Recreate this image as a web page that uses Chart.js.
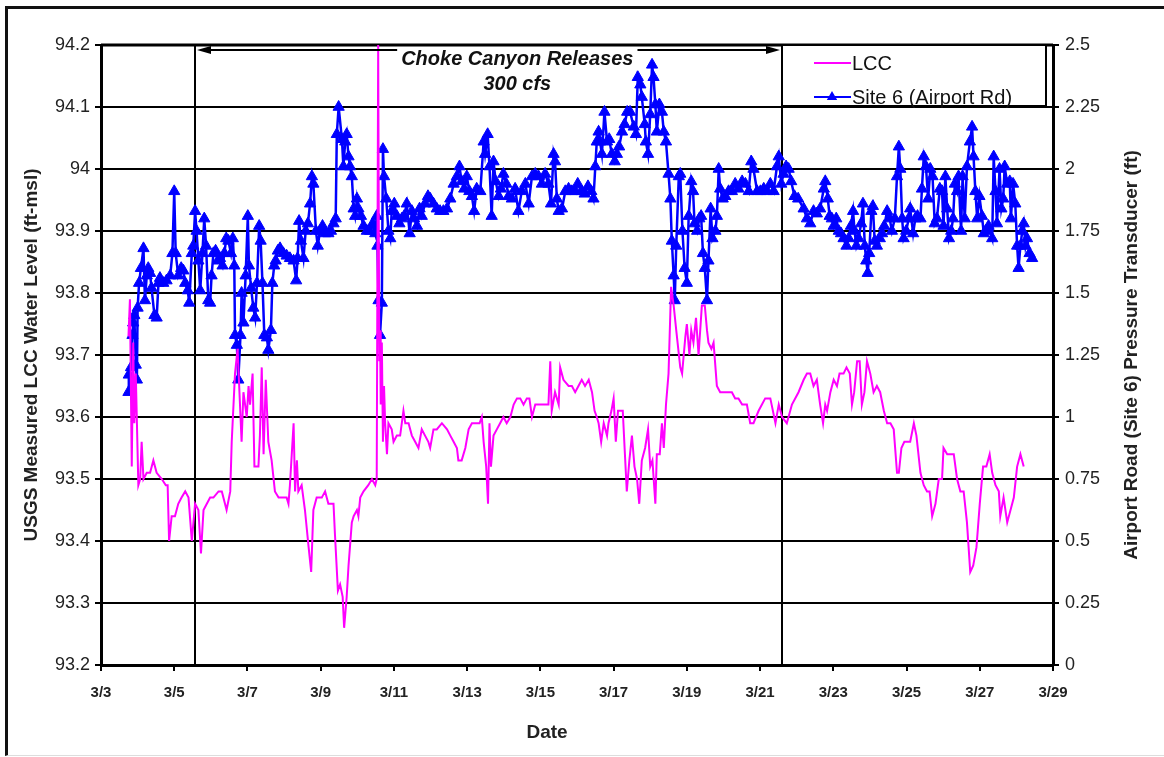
<!DOCTYPE html>
<html>
<head>
<meta charset="utf-8">
<title>LCC and Site 6 water levels</title>
<script src="https://cdn.jsdelivr.net/npm/chart.js@4.4.1/dist/chart.umd.min.js"></script>
<style>
  html, body { margin: 0; padding: 0; background: #fff; }
  #wrap { position: relative; width: 1164px; height: 757px; }
  #frame { position: absolute; left: 5px; top: 6px; right: 0; bottom: 1px;
           border-left: 3px solid #111; border-top: 3px solid #111; border-bottom: 1px solid #ddd;
           pointer-events: none; }
</style>
</head>
<body>
<div id="wrap">
  <canvas id="waterChart" width="1164" height="757"></canvas>
  <div id="frame"></div>
</div>
<script>
//// Data

// LCC (USGS gauge, left axis, ft-msl) - x is day of March
const lccDay = [
  3.75, 3.79, 3.84, 3.88, 3.91, 3.95, 4.02, 4.07, 4.11, 4.16, 4.25, 4.34, 4.43, 4.52, 4.66, 4.77, 4.82, 4.86, 4.93, 5.02,
  5.11, 5.20, 5.30, 5.39, 5.48, 5.57, 5.66, 5.73, 5.80, 5.89, 5.98, 6.07, 6.21, 6.30, 6.43, 6.53, 6.57, 6.66, 6.73, 6.84,
  6.89, 6.98, 7.03, 7.07, 7.14, 7.19, 7.30, 7.34, 7.39, 7.44, 7.50, 7.57, 7.66, 7.75, 7.85, 7.94, 8.07, 8.12, 8.16, 8.26,
  8.30, 8.35, 8.39, 8.48, 8.57, 8.67, 8.74, 8.80, 8.89, 9.03, 9.12, 9.21, 9.35, 9.39, 9.47,
  9.53, 9.60, 9.64, 9.71, 9.76, 9.85, 9.90, 9.99, 10.03, 10.08, 10.17, 10.30, 10.40, 10.49, 10.53, 10.57, 10.60, 10.62, 10.64, 10.67,
  10.70, 10.73, 10.76, 10.81, 10.85, 10.94, 10.99, 11.08, 11.17, 11.26, 11.31, 11.40, 11.49, 11.58, 11.67, 11.76, 11.85, 11.94, 11.99, 12.08,
  12.17, 12.31, 12.45, 12.54, 12.63, 12.72, 12.76, 12.85, 12.95, 13.04, 13.13, 13.26, 13.34, 13.40, 13.45, 13.52, 13.57, 13.61, 13.65, 13.72,
  13.81, 13.90, 13.99, 14.08, 14.18, 14.27, 14.36, 14.45, 14.54, 14.63, 14.70, 14.77, 14.86, 14.95, 15.04, 15.13, 15.22, 15.27, 15.31, 15.40,
  15.50, 15.54, 15.63,
  15.77, 15.86, 15.95, 16.04, 16.13, 16.22, 16.32, 16.41, 16.48, 16.54, 16.59, 16.66, 16.73, 16.82, 16.86, 16.94, 17.00, 17.06, 17.12, 17.18,
  17.25, 17.30, 17.36, 17.43, 17.50, 17.57, 17.64, 17.70, 17.77, 17.86, 17.94, 18.00, 18.06, 18.14, 18.18, 18.26, 18.32, 18.37, 18.43, 18.50,
  18.57, 18.64, 18.71, 18.82, 18.87, 18.96, 19.00, 19.07, 19.12, 19.18, 19.25, 19.32, 19.41, 19.49, 19.55, 19.59, 19.67, 19.73, 19.82, 19.91,
  20.05, 20.14, 20.23, 20.32, 20.41, 20.51, 20.64, 20.73, 20.82, 20.96, 21.14, 21.28, 21.42, 21.51, 21.60, 21.73, 21.87, 22.05,
  22.19, 22.28, 22.37, 22.46, 22.55, 22.64, 22.72, 22.78, 22.83, 22.92, 23.01, 23.10, 23.17, 23.28, 23.36, 23.45, 23.51, 23.57, 23.65, 23.72,
  23.78, 23.85, 23.92, 24.01, 24.10, 24.19, 24.28, 24.38, 24.47, 24.56, 24.65, 24.74, 24.79, 24.86, 24.94, 25.03, 25.10, 25.20, 25.27, 25.38,
  25.47, 25.56, 25.63, 25.70, 25.79, 25.88, 25.97, 26.01, 26.11, 26.20, 26.29, 26.38, 26.47, 26.56, 26.65, 26.74, 26.82, 26.91, 27.00, 27.09,
  27.18, 27.27, 27.34, 27.43, 27.52, 27.56, 27.65, 27.75, 27.84, 27.93, 28.02, 28.11, 28.20
];
const lccLevel = [
  93.73, 93.79, 93.52, 93.72, 93.59, 93.67, 93.49, 93.50, 93.56, 93.50, 93.51, 93.51, 93.53, 93.51, 93.50, 93.49, 93.49, 93.40, 93.44, 93.44,
  93.46, 93.47, 93.48, 93.47, 93.40, 93.46, 93.45, 93.38, 93.45, 93.46, 93.47, 93.47, 93.48, 93.48, 93.45, 93.48, 93.56, 93.67, 93.71, 93.56,
  93.64, 93.60, 93.65, 93.62, 93.67, 93.52, 93.52, 93.57, 93.68, 93.54, 93.66, 93.56, 93.53, 93.48, 93.47, 93.47, 93.47, 93.46, 93.49, 93.59,
  93.48, 93.53, 93.48, 93.49, 93.45, 93.39, 93.35, 93.45, 93.47, 93.47, 93.48, 93.46, 93.46, 93.41, 93.32,
  93.33, 93.31, 93.26, 93.31, 93.36, 93.43, 93.44, 93.45, 93.44, 93.47, 93.48, 93.49, 93.50, 93.49, 93.50, 94.20, 93.69, 93.74, 93.62, 93.72,
  93.56, 93.65, 93.59, 93.54, 93.59, 93.58, 93.56, 93.57, 93.57, 93.61, 93.59, 93.59, 93.57, 93.56, 93.55, 93.58, 93.57, 93.56, 93.55, 93.58,
  93.58, 93.59, 93.58, 93.57, 93.56, 93.55, 93.53, 93.53, 93.55, 93.58, 93.59, 93.59, 93.59, 93.60, 93.56, 93.52, 93.46, 93.59, 93.52, 93.57,
  93.58, 93.59, 93.60, 93.59, 93.60, 93.62, 93.63, 93.63, 93.62, 93.63, 93.63, 93.60, 93.62, 93.62, 93.62, 93.62, 93.62, 93.69, 93.61, 93.64,
  93.62, 93.68, 93.66,
  93.65, 93.65, 93.64, 93.65, 93.66, 93.65, 93.66, 93.64, 93.61, 93.60, 93.59, 93.56, 93.59, 93.57, 93.59, 93.61, 93.63, 93.56, 93.61, 93.61,
  93.61, 93.55, 93.48, 93.53, 93.57, 93.52, 93.50, 93.46, 93.53, 93.55, 93.58, 93.52, 93.53, 93.46, 93.54, 93.54, 93.59, 93.55, 93.62, 93.67,
  93.81, 93.78, 93.74, 93.68, 93.67, 93.73, 93.75, 93.70, 93.74, 93.72, 93.76, 93.70, 93.78, 93.78, 93.74, 93.72, 93.71, 93.72, 93.65, 93.64,
  93.64, 93.64, 93.64, 93.63, 93.63, 93.62, 93.62, 93.59, 93.59, 93.61, 93.63, 93.63, 93.59, 93.62, 93.60, 93.59, 93.62, 93.64,
  93.66, 93.67, 93.67, 93.65, 93.66, 93.62, 93.59, 93.62, 93.61, 93.64, 93.66, 93.65, 93.67, 93.67, 93.68, 93.67, 93.62, 93.64, 93.69, 93.69,
  93.62, 93.64, 93.69, 93.67, 93.64, 93.65, 93.64, 93.61, 93.59, 93.59, 93.58, 93.51, 93.51, 93.55, 93.56, 93.56, 93.56, 93.59, 93.57, 93.51,
  93.49, 93.48, 93.48, 93.44, 93.46, 93.50, 93.50, 93.55, 93.54, 93.54, 93.54, 93.50, 93.48, 93.48, 93.43, 93.35, 93.36, 93.39, 93.46, 93.52,
  93.52, 93.54, 93.51, 93.49, 93.48, 93.44, 93.47, 93.43, 93.45, 93.47, 93.52, 93.54, 93.52
];

// Site 6 (Airport Rd) pressure transducer, right axis, ft
const siteDay = [
  3.75, 3.76, 3.82, 3.86, 3.88, 3.91, 3.95, 3.98, 4.00, 4.04, 4.09, 4.16, 4.20, 4.25, 4.29, 4.34, 4.38, 4.46, 4.52, 4.57,
  4.61, 4.70, 4.79, 4.89, 4.95, 5.00, 5.04, 5.11, 5.19, 5.25, 5.30, 5.37, 5.41, 5.48, 5.52, 5.57, 5.61, 5.66, 5.71, 5.77,
  5.82, 5.87, 5.93, 5.98, 6.02, 6.07, 6.13, 6.19, 6.25, 6.32, 6.37, 6.42, 6.48, 6.55, 6.60, 6.64, 6.66, 6.71, 6.75, 6.81,
  6.84, 6.89, 6.95, 7.01, 7.04, 7.10, 7.16, 7.21, 7.26, 7.32, 7.36, 7.41, 7.46, 7.53, 7.57, 7.64, 7.68, 7.73, 7.77, 7.83,
  7.89, 7.98, 8.07, 8.16, 8.26, 8.33, 8.37, 8.41, 8.46, 8.53, 8.59, 8.65, 8.71, 8.76, 8.80, 8.87, 8.92, 8.98, 9.05, 9.12,
  9.21, 9.28, 9.35, 9.41, 9.44, 9.49,
  9.58, 9.62, 9.67, 9.71, 9.76, 9.80, 9.85, 9.90, 9.94, 9.99, 10.03, 10.10, 10.17, 10.26, 10.35, 10.42, 10.49, 10.53, 10.55, 10.58,
  10.62, 10.67, 10.70, 10.73, 10.79, 10.85, 10.90, 10.94, 11.01, 11.08, 11.15, 11.22, 11.28, 11.35, 11.43, 11.49, 11.55, 11.63, 11.70, 11.76,
  11.85, 11.93, 11.99, 12.08, 12.17, 12.26, 12.35, 12.45, 12.54, 12.63, 12.72, 12.79, 12.85, 12.92, 12.99, 13.06, 13.13, 13.19, 13.26, 13.36,
  13.45, 13.49, 13.56, 13.61, 13.67, 13.72, 13.78, 13.86, 13.92, 13.99, 14.07, 14.13, 14.22, 14.31, 14.40, 14.49, 14.59, 14.68, 14.77, 14.86,
  14.95, 15.04, 15.13, 15.22, 15.29, 15.36, 15.40, 15.45, 15.50, 15.59, 15.68, 15.77, 15.86, 15.95,
  16.02, 16.12, 16.21, 16.30, 16.39, 16.45, 16.50, 16.54, 16.59, 16.63, 16.68, 16.75, 16.82, 16.88, 16.95, 17.03, 17.09, 17.15, 17.23, 17.30,
  17.37, 17.45, 17.55, 17.61, 17.66, 17.73, 17.77, 17.85, 17.88, 17.94, 18.00, 18.05, 18.09, 18.14, 18.18, 18.25, 18.32, 18.37, 18.43, 18.50,
  18.55, 18.59, 18.64, 18.67, 18.71, 18.78, 18.82, 18.88, 18.94, 19.00, 19.05, 19.12, 19.17, 19.21, 19.28, 19.34, 19.39, 19.44, 19.49, 19.55,
  19.59, 19.65, 19.70, 19.78, 19.82, 19.87, 19.91, 19.98, 20.05, 20.14, 20.23, 20.32, 20.41, 20.51, 20.60, 20.69, 20.76, 20.82, 20.92, 21.01,
  21.10, 21.19, 21.28, 21.37, 21.46, 21.51, 21.58, 21.64, 21.71, 21.78, 21.85, 21.94, 22.04,
  22.19, 22.28, 22.37, 22.46, 22.55, 22.64, 22.74, 22.78, 22.85, 22.90, 22.96, 23.01, 23.08, 23.15, 23.21, 23.28, 23.36, 23.42, 23.48, 23.54,
  23.58, 23.63, 23.69, 23.76, 23.81, 23.86, 23.90, 23.94, 23.98, 24.04, 24.08, 24.13, 24.19, 24.27, 24.33, 24.39, 24.47, 24.54, 24.60, 24.68,
  24.74, 24.79, 24.83, 24.88, 24.92, 24.99, 25.06, 25.10, 25.18, 25.24, 25.30, 25.38, 25.42, 25.47, 25.53, 25.59, 25.65, 25.71, 25.77, 25.83,
  25.91, 25.97, 26.01, 26.06, 26.11, 26.16, 26.22, 26.27, 26.32, 26.38, 26.42, 26.49, 26.53, 26.59, 26.65, 26.73, 26.79, 26.83, 26.88, 26.93,
  26.99, 27.06, 27.11, 27.16, 27.24, 27.34, 27.38, 27.43, 27.47, 27.54, 27.59, 27.64, 27.68, 27.75, 27.82, 27.85, 27.91, 27.97, 28.02, 28.06,
  28.11, 28.16, 28.20, 28.25, 28.29, 28.36, 28.43
];
const siteLevel = [
  1.10, 1.17, 1.20, 1.33, 1.38, 1.41, 1.21, 1.15, 1.44, 1.54, 1.60, 1.68, 1.47, 1.57, 1.60, 1.58, 1.52, 1.41, 1.40, 1.54,
  1.56, 1.54, 1.55, 1.57, 1.66, 1.91, 1.66, 1.57, 1.60, 1.59, 1.54, 1.51, 1.46, 1.66, 1.69, 1.83, 1.75, 1.63, 1.51, 1.66,
  1.80, 1.69, 1.47, 1.46, 1.57, 1.66, 1.67, 1.63, 1.64, 1.61, 1.66, 1.72, 1.71, 1.66, 1.72, 1.61, 1.33, 1.29, 1.15, 1.33,
  1.50, 1.38, 1.57, 1.81, 1.61, 1.52, 1.44, 1.40, 1.54, 1.77, 1.71, 1.54, 1.33, 1.32, 1.27, 1.35, 1.54, 1.61, 1.63, 1.67,
  1.68, 1.66, 1.65, 1.64, 1.63, 1.55, 1.64, 1.79, 1.71, 1.64, 1.75, 1.78, 1.86, 1.97, 1.94, 1.75, 1.69, 1.75, 1.77, 1.74,
  1.74, 1.75, 1.78, 1.80, 2.14, 2.25,
  2.12, 2.01, 2.11, 2.14, 2.05, 2.01, 1.97, 1.84, 1.81, 1.88, 1.84, 1.81, 1.77, 1.75, 1.75, 1.78, 1.74, 1.81, 1.69, 1.47,
  1.33, 1.46, 2.08, 1.97, 1.88, 1.75, 1.72, 1.83, 1.86, 1.81, 1.78, 1.80, 1.81, 1.86, 1.74, 1.83, 1.80, 1.77, 1.84, 1.81,
  1.86, 1.89, 1.88, 1.86, 1.84, 1.83, 1.83, 1.84, 1.88, 1.94, 1.97, 2.01, 1.95, 1.92, 1.97, 1.91, 1.89, 1.83, 1.92, 1.91,
  2.11, 2.06, 2.14, 2.01, 1.81, 2.03, 1.95, 1.89, 1.92, 1.98, 1.94, 1.89, 1.88, 1.92, 1.83, 1.91, 1.94, 1.86, 1.97, 1.98,
  1.97, 1.94, 1.98, 1.94, 1.86, 2.06, 2.03, 1.88, 1.83, 1.84, 1.91, 1.92, 1.91, 1.91,
  1.94, 1.91, 1.90, 1.93, 1.91, 1.88, 2.01, 2.11, 2.15, 2.11, 2.06, 2.23, 2.11, 2.12, 2.06, 2.03, 2.06, 2.09, 2.15, 2.18,
  2.23, 2.23, 2.17, 2.14, 2.37, 2.34, 2.29, 2.18, 2.11, 2.06, 2.22, 2.42, 2.37, 2.26, 2.15, 2.26, 2.23, 2.15, 2.11, 1.98,
  1.88, 1.71, 1.57, 1.47, 1.69, 1.97, 1.98, 1.75, 1.60, 1.54, 1.81, 1.95, 1.91, 1.78, 1.75, 1.80, 1.81, 1.66, 1.60, 1.47,
  1.63, 1.84, 1.72, 1.75, 1.81, 2.00, 1.92, 1.88, 1.89, 1.91, 1.91, 1.94, 1.92, 1.95, 1.94, 1.91, 2.03, 2.00, 1.91, 1.91,
  1.92, 1.91, 1.94, 1.91, 2.01, 2.05, 1.94, 1.98, 2.01, 2.00, 1.95, 1.89, 1.88,
  1.84, 1.80, 1.78, 1.83, 1.82, 1.84, 1.92, 1.95, 1.88, 1.81, 1.80, 1.77, 1.80, 1.75, 1.74, 1.72, 1.69, 1.72, 1.77, 1.83,
  1.75, 1.69, 1.72, 1.78, 1.86, 1.69, 1.63, 1.58, 1.66, 1.83, 1.85, 1.71, 1.69, 1.72, 1.74, 1.77, 1.83, 1.80, 1.75, 1.80,
  1.97, 2.09, 2.00, 1.80, 1.72, 1.75, 1.80, 1.84, 1.74, 1.80, 1.81, 1.80, 1.92, 2.05, 2.01, 1.88, 2.00, 1.97, 1.78, 1.80,
  1.92, 1.91, 1.77, 1.97, 1.84, 1.72, 1.75, 1.80, 1.94, 1.91, 1.97, 1.75, 1.97, 1.80, 2.01, 2.11, 2.17, 2.05, 1.91, 1.80,
  1.89, 1.81, 1.74, 1.75, 1.77, 1.72, 2.05, 1.91, 1.78, 2.00, 1.84, 1.88, 2.01, 1.94, 1.95, 1.80, 1.94, 1.86, 1.69, 1.60,
  1.69, 1.75, 1.78, 1.69, 1.72, 1.66, 1.64
];

// Choke Canyon release period (start / end, day of March) and note position
const releaseDays = [5.57, 21.6];
const noteDay = 14.37;
const noteLines = ['Choke Canyon Releases', '300 cfs'];

const seriesNames = ['LCC', 'Site 6 (Airport Rd)'];
const seriesColors = ['#ff00ff', '#0000ff'];

const axisTitles = {
    left: 'USGS Measured LCC Water Level (ft-msl)',
    right: 'Airport Road (Site 6) Pressure Transducer (ft)',
    bottom: 'Date'
};

const chartFont = "'Liberation Sans', Arial, Helvetica, sans-serif";

//// Helpers
const toPoints = (xs, ys) => xs.map((x, i) => ({ x: x, y: ys[i] }));

const drawTriangle = (ctx, x, y, r) => {
    ctx.beginPath();
    ctx.moveTo(x, y - r);
    ctx.lineTo(x + r * 0.866, y + r / 2);
    ctx.lineTo(x - r * 0.866, y + r / 2);
    ctx.closePath();
    ctx.fill();
};

// annotations, legend box and axis titles
const releasePlugin = {
    id: 'releaseNotes',
    beforeDatasetsDraw(chart) {
        const { ctx, chartArea, scales } = chart;
        ctx.save();
        ctx.strokeStyle = '#000';
        ctx.lineWidth = 2;
        releaseDays.forEach(d => {
            const px = Math.round(scales.x.getPixelForValue(d));
            ctx.beginPath();
            ctx.moveTo(px, chartArea.top);
            ctx.lineTo(px, chartArea.bottom);
            ctx.stroke();
        });
        // heavier top edge of the plot
        ctx.lineWidth = 3;
        ctx.beginPath();
        ctx.moveTo(chartArea.left, chartArea.top);
        ctx.lineTo(chartArea.right, chartArea.top);
        ctx.stroke();
        ctx.restore();
    },
    afterDatasetsDraw(chart) {
        const { ctx, chartArea, scales } = chart;
        const top = chartArea.top;
        const x0 = Math.round(scales.x.getPixelForValue(releaseDays[0])) + 2;
        const x1 = Math.round(scales.x.getPixelForValue(releaseDays[1])) - 2;
        const ay = top + 5;
        ctx.save();

        // double headed arrow
        ctx.strokeStyle = '#000';
        ctx.fillStyle = '#000';
        ctx.lineWidth = 2;
        ctx.beginPath();
        ctx.moveTo(x0 + 8, ay);
        ctx.lineTo(x1 - 8, ay);
        ctx.stroke();
        ctx.beginPath();
        ctx.moveTo(x0, ay); ctx.lineTo(x0 + 14, ay - 4); ctx.lineTo(x0 + 14, ay + 4); ctx.closePath();
        ctx.fill();
        ctx.beginPath();
        ctx.moveTo(x1, ay); ctx.lineTo(x1 - 14, ay - 4); ctx.lineTo(x1 - 14, ay + 4); ctx.closePath();
        ctx.fill();

        // note text
        const nx = scales.x.getPixelForValue(noteDay);
        ctx.font = 'italic bold 20px ' + chartFont;
        ctx.textAlign = 'center';
        ctx.textBaseline = 'middle';
        const w = ctx.measureText(noteLines[0]).width;
        ctx.fillStyle = '#fff';
        ctx.fillRect(nx - w / 2 - 4, top + 3, w + 8, 22);
        ctx.fillStyle = '#111';
        ctx.fillText(noteLines[0], nx, top + 14);
        ctx.fillText(noteLines[1], nx, top + 39);

        // legend box
        const lx = Math.round(scales.x.getPixelForValue(releaseDays[1]));
        const rx = chartArea.right - 7;
        ctx.fillStyle = '#fff';
        ctx.fillRect(lx, top, rx - lx, 61);
        ctx.strokeStyle = '#000';
        ctx.lineWidth = 2;
        ctx.strokeRect(lx, top, rx - lx, 61);
        ctx.font = '20px ' + chartFont;
        ctx.textAlign = 'left';
        const rows = [top + 18, top + 52];
        seriesNames.forEach((name, i) => {
            ctx.strokeStyle = seriesColors[i];
            ctx.lineWidth = 2;
            ctx.beginPath();
            ctx.moveTo(lx + 32, rows[i]);
            ctx.lineTo(lx + 69, rows[i]);
            ctx.stroke();
            if (i === 1) {
                ctx.fillStyle = seriesColors[i];
                drawTriangle(ctx, lx + 50, rows[i], 6);
            }
            ctx.fillStyle = '#111';
            ctx.fillText(name, lx + 70, rows[i] + 1);
        });
        ctx.restore();
    },
    afterDraw(chart) {
        const { ctx, chartArea } = chart;
        const midY = (chartArea.top + chartArea.bottom) / 2;
        ctx.save();
        ctx.fillStyle = '#222';
        ctx.font = 'bold 19px ' + chartFont;
        ctx.textAlign = 'center';
        ctx.textBaseline = 'middle';

        ctx.save();
        ctx.translate(32, midY);
        ctx.rotate(-Math.PI / 2);
        ctx.fillText(axisTitles.left, 0, 0);
        ctx.restore();

        ctx.save();
        ctx.translate(1132, midY);
        ctx.rotate(-Math.PI / 2);
        ctx.fillText(axisTitles.right, 0, 0);
        ctx.restore();

        ctx.fillText(axisTitles.bottom, 547, 733);
        ctx.restore();
    }
};

//// Chart
const chartInitial = () => {
    const waterChart = document.getElementById('waterChart');
    Chart.defaults.font.family = chartFont;
    Chart.defaults.color = '#222';

    new Chart(waterChart, {
        type: 'line',
        data: {
            datasets: [{
                label: seriesNames[0],
                data: toPoints(lccDay, lccLevel),
                yAxisID: 'y',
                borderColor: seriesColors[0],
                borderWidth: 2,
                pointRadius: 0,
                tension: 0
            }, {
                label: seriesNames[1],
                data: toPoints(siteDay, siteLevel),
                yAxisID: 'y1',
                borderColor: seriesColors[1],
                backgroundColor: seriesColors[1],
                borderWidth: 2.5,
                pointStyle: 'triangle',
                pointRadius: 6.5,
                pointBorderWidth: 1,
                tension: 0
            }]
        },
        options: {
            responsive: false,
            animation: false,
            layout: { padding: { left: 10, right: 10, top: 45, bottom: 10 } },
            plugins: {
                legend: { display: false },
                tooltip: { enabled: false }
            },
            scales: {
                x: {
                    type: 'linear',
                    min: 3,
                    max: 29,
                    afterFit: scale => { scale.height = 82; },
                    ticks: {
                        stepSize: 2,
                        autoSkip: false,
                        maxRotation: 0,
                        padding: 13,
                        font: { size: 15, weight: 'bold' },
                        callback: v => '3/' + v
                    },
                    grid: { drawOnChartArea: false, color: '#000', lineWidth: 2, tickLength: 6 },
                    border: { color: '#000', width: 3 }
                },
                y: {
                    position: 'left',
                    min: 93.2,
                    max: 94.2,
                    afterFit: scale => { scale.width = 91; },
                    ticks: {
                        stepSize: 0.1,
                        padding: 5,
                        font: { size: 18 },
                        callback: v => String(Math.round(v * 10) / 10)
                    },
                    grid: { color: '#000', lineWidth: 2, tickLength: 6 },
                    border: { color: '#000', width: 3 }
                },
                y1: {
                    position: 'right',
                    min: 0,
                    max: 2.5,
                    afterFit: scale => { scale.width = 101; },
                    ticks: {
                        stepSize: 0.25,
                        padding: 6,
                        font: { size: 18 },
                        callback: v => String(Math.round(v * 100) / 100)
                    },
                    grid: { drawOnChartArea: false, color: '#000', lineWidth: 2, tickLength: 6 },
                    border: { color: '#000', width: 3 }
                }
            }
        },
        plugins: [releasePlugin]
    });
};

//// Executions state
window.onload = () => {
    chartInitial();
};
</script>
</body>
</html>
